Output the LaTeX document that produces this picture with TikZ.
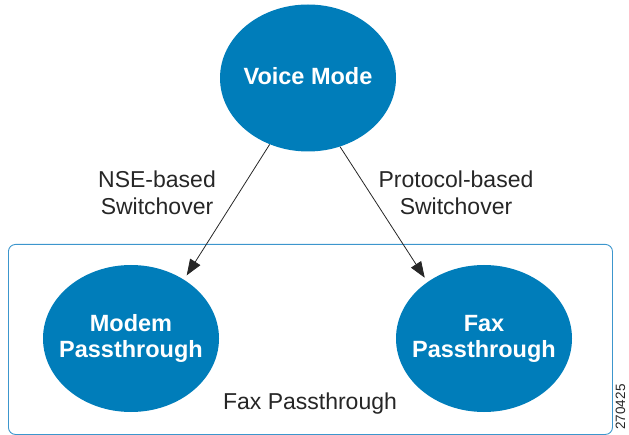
\documentclass[tikz,border=0pt]{standalone}
\usepackage{fontspec}
\setmainfont{Liberation Sans}
\usetikzlibrary{shapes.geometric,arrows.meta}
\definecolor{ciscoblue}{RGB}{0,125,186}
\definecolor{framblue}{RGB}{60,150,205}
\tikzset{
  bubble/.style={ellipse, fill=ciscoblue, draw=none, minimum width=176pt, minimum height=147pt, inner sep=0pt},
  btext/.style={text=white, font=\fontsize{23.5}{26}\selectfont\bfseries, align=center},
  lbl/.style={font=\fontsize{23}{27}\selectfont, align=center, text=black!85},
  conn/.style={-{Triangle[length=16pt,width=12pt]}, line width=0.8pt, black!85, shorten >=5pt}
}
\begin{document}
\begin{tikzpicture}[x=1pt,y=-1pt]
\useasboundingbox (0,0) rectangle (629,435);
\node[draw=framblue, line width=0.9pt, rounded corners=7pt, minimum width=604pt, minimum height=190pt, anchor=north west] (frame) at (8,244) {};
\node[bubble, label={[btext, yshift=2pt]center:Voice Mode}] (voice) at (308,78) {};
\node[bubble, label={[btext]center:Modem\\Passthrough}] (modem) at (131,338.5) {};
\node[bubble, label={[btext]center:Fax\\Passthrough}] (fax) at (484,338.5) {};
\node[lbl] (nse) at (157,193) {NSE-based\\Switchover};
\node[lbl] (proto) at (456,193) {Protocol-based\\Switchover};
\node[lbl] (fp) at (310,404) {Fax Passthrough};
\node[font=\fontsize{13.5}{13.5}\selectfont, rotate=90, text=black!85, inner sep=1pt] (num) at (620.5,407) {270425};
\draw[conn] (voice.240.4) -- (modem.48.6);
\draw[conn] (voice.295.5) -- (fax.135.2);
\end{tikzpicture}
\end{document}
